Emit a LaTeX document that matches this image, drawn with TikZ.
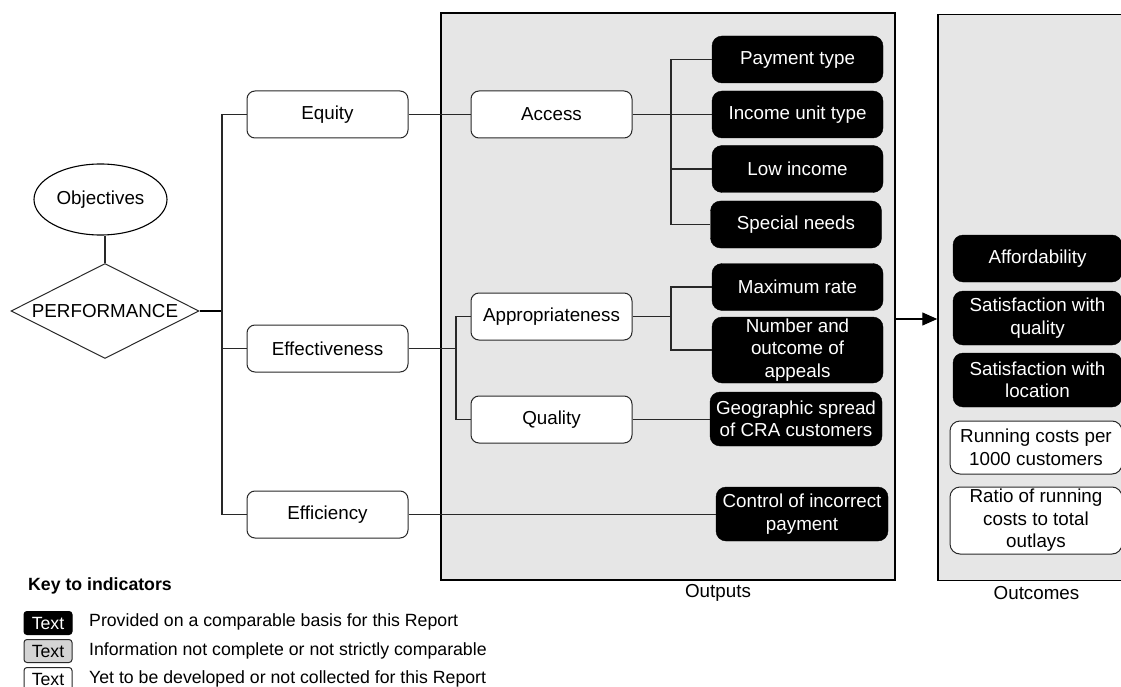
\documentclass[tikz,border=0pt]{standalone}
\usepackage{fontspec}
\setmainfont{Liberation Sans}
\usetikzlibrary{shapes.geometric,arrows.meta}
\definecolor{panelgray}{RGB}{230,230,230}
\definecolor{keygray}{RGB}{212,212,212}
\definecolor{linegray}{RGB}{40,40,40}
\newcommand\fsmain{\fontsize{18.8}{22.5}\selectfont}
\newcommand\fskey{\fontsize{17.7}{20}\selectfont}
\tikzset{
  panel/.style={draw=black, line width=1.5pt, fill=panelgray, inner sep=0pt},
  wbox/.style={draw=linegray, line width=1pt, fill=white, rounded corners=8pt, inner sep=0pt,
    minimum width=161pt, minimum height=47pt, align=center, font=\fsmain},
  bbox/.style={draw=black, fill=black, text=white, rounded corners=10pt, inner sep=0pt,
    minimum width=171pt, minimum height=47pt, align=center, font=\fsmain},
  obox/.style={draw=linegray, line width=1pt, fill=white, rounded corners=10pt, inner sep=0pt,
    minimum width=172pt, align=center, font=\fsmain},
  conn/.style={draw=linegray, line width=1.1pt},
  thickconn/.style={draw=black, line width=2.4pt},
  lbl/.style={font=\fsmain, inner sep=0pt},
  keybox/.style={rounded corners=3pt, line width=1pt, inner sep=0pt, minimum width=48pt,
    minimum height=23pt, font=\fskey},
  keytext/.style={font=\fskey, anchor=west, inner sep=0pt}
}
\begin{document}
\begin{tikzpicture}[x=1pt,y=-1pt]
\useasboundingbox (0,0) rectangle (1121,687);
\clip (0,0) rectangle (1121,687);
% panels
\node[panel, minimum width=454pt, minimum height=567pt] (outp) at (668,296.5) {};
\node[panel, minimum width=200pt, minimum height=566pt] (outc) at (1038,297.5) {};
\node[lbl] (outplbl) at (718,593) {Outputs};
\node[lbl] (outclbl) at (1036.5,593) {Outcomes};

% objectives / performance
\node[draw=black, line width=1.1pt, ellipse, minimum width=133pt, minimum height=71pt, inner sep=0pt, font=\fsmain] (obj) at (100.5,199.5) {Objectives};
\node[draw=linegray, line width=1pt, diamond, minimum width=188pt, minimum height=95pt, inner sep=0pt, font=\fsmain] (perf) at (105,311) {\makebox[0pt]{PERFORMANCE}};

% level 1
\node[wbox] (equity) at (327.5,114.5) {Equity};
\node[wbox] (effect) at (327.5,348.5) {Effectiveness};
\node[wbox] (effic) at (327.5,514.5) {Efficiency};

% level 2
\node[wbox] (access) at (551.5,114.5) {Access};
\node[wbox] (appr) at (551.5,316.5) {Appropriateness};
\node[wbox] (qual) at (551.5,419.5) {Quality};

% indicators (outputs)
\node[bbox] (pay) at (797.5,59.5) {Payment type};
\node[bbox] (inc) at (797.5,114.5) {Income unit type};
\node[bbox] (low) at (797.5,169) {Low income};
\node[bbox] (spec) at (796,224.5) {Special needs};
\node[bbox] (maxr) at (797.5,287) {Maximum rate};
\node[bbox, minimum height=66pt] (num) at (797.5,350) {Number and\\outcome of\\appeals};
\node[bbox, minimum width=172pt, minimum height=54pt] (geo) at (796,419) {Geographic spread\\of CRA customers};
\node[bbox, minimum width=172pt, minimum height=54pt] (ctrl) at (802,514) {Control of incorrect\\payment};

% outcomes
\node[bbox, minimum width=169pt, minimum height=47pt] (aff) at (1037.5,258.5) {Affordability};
\node[bbox, minimum width=169pt, minimum height=54pt] (satq) at (1037.5,318) {Satisfaction with\\quality};
\node[bbox, minimum width=169pt, minimum height=54pt] (satl) at (1037.5,380) {Satisfaction with\\location};
\node[obox, minimum height=53pt] (run) at (1036,447.5) {Running costs per\\1000 customers};
\node[obox, minimum height=67pt] (ratio) at (1036,520.5) {Ratio of running\\costs to total\\outlays};

% connectors
\coordinate (tx) at (222,0);
\coordinate (cx) at (456,0);
\coordinate (bx) at (671,0);
\coordinate (ay) at (916,319);
\draw[conn] (obj.south -| perf.north) -- (perf.north);
\draw[thickconn] (perf.east) -- (perf.east -| tx);
\draw[conn] (equity.west) -- (equity.west -| tx) -- (effic.west -| tx) -- (effic.west);
\draw[conn] (effect.west) -- (effect.west -| tx);
\draw[conn] (equity.east) -- (access.west);
\draw[conn] (access.east) -- (access.east -| bx);
\draw[conn] (pay.west) -- (pay.west -| bx) -- (spec.west -| bx) -- (spec.west);
\draw[conn] (inc.west) -- (inc.west -| bx);
\draw[conn] (low.west) -- (low.west -| bx);
\draw[conn] (effect.east) -- (effect.east -| cx);
\draw[conn] (appr.west) -- (appr.west -| cx) -- (qual.west -| cx) -- (qual.west);
\draw[conn] (appr.east) -- (appr.east -| bx);
\draw[conn] (maxr.west) -- (maxr.west -| bx) -- (num.west -| bx) -- (num.west);
\draw[conn] (qual.east) -- (qual.east -| geo.west);
\draw[conn] (effic.east) -- (effic.east -| ctrl.west);
\draw[draw=black, line width=1.3pt, -{Triangle[length=15pt,width=13pt]}] (outp.east |- ay) -- (outc.west |- ay);

% key
\node[font=\fskey\bfseries, anchor=west, inner sep=0pt] (keyttl) at (28,586) {Key to indicators};
\node[keybox, draw=black, fill=black, text=white] (k1) at (48,623) {Text};
\node[keybox, draw=linegray, fill=keygray] (k2) at (48,651) {Text};
\node[keybox, draw=linegray, fill=white] (k3) at (48,679) {Text};
\node[keytext] (t1) at (89,622) {Provided on a comparable basis for this Report};
\node[keytext] (t2) at (89,651) {Information not complete or not strictly comparable};
\node[keytext] (t3) at (89,679) {Yet to be developed or not collected for this Report};
\end{tikzpicture}
\end{document}
